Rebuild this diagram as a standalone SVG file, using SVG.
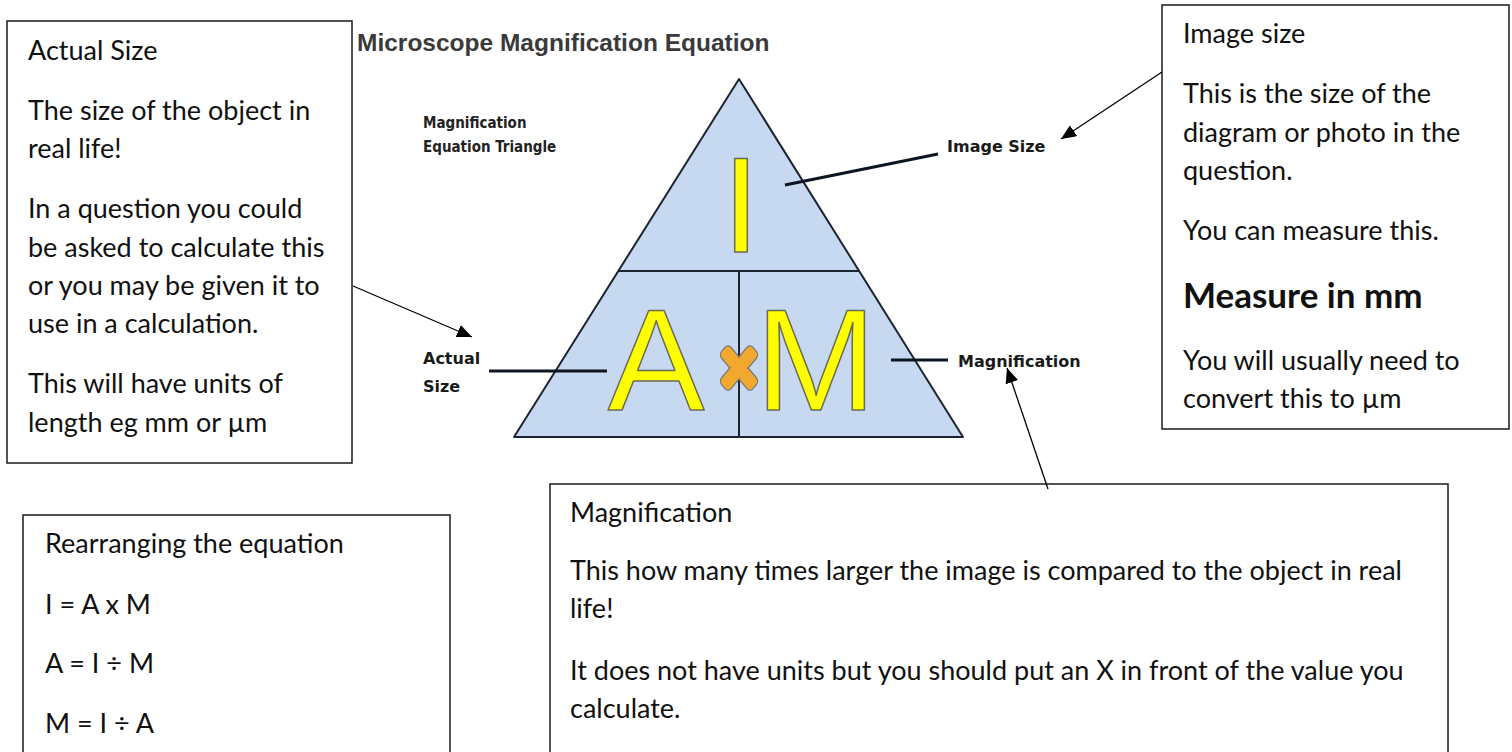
<svg xmlns="http://www.w3.org/2000/svg" width="1512" height="752" viewBox="0 0 1512 752">
<defs>
<style>
.box{fill:#fff;stroke:#1a1a1a;stroke-width:1.5}
.t{font-family:Lato,"Liberation Sans",sans-serif;font-size:27px;fill:#111}
.tb{font-family:Lato,"Liberation Sans",sans-serif;font-size:35px;font-weight:bold;fill:#111}
.title{font-family:"Liberation Sans",Arial,sans-serif;font-size:24.5px;font-weight:bold;fill:#3a3a3a}
.sub{font-family:"Liberation Sans Narrow","DejaVu Sans Condensed",sans-serif;font-stretch:condensed;font-size:15px;font-weight:bold;fill:#222}
.lab{font-family:"DejaVu Sans",sans-serif;font-size:16px;font-weight:bold;fill:#1a1a1a}
.tri{fill:#c6d9f0;stroke:#1c2430;stroke-width:2;stroke-linejoin:round}
.div{stroke:#1c2430;stroke-width:2;fill:none}
.big{font-family:"Liberation Sans",Arial,sans-serif;fill:#ffff00;stroke:#6b6b55;stroke-width:1.5;stroke-linejoin:round;text-anchor:middle}
.lead{stroke:#0d1522;stroke-width:3.2;fill:none}
.arr{stroke:#000;stroke-width:1.3;fill:none;marker-end:url(#ah)}
.x{fill:#f2a72e;stroke:#777;stroke-width:1.2;vector-effect:non-scaling-stroke}
</style>
<marker id="ah" markerUnits="userSpaceOnUse" markerWidth="16" markerHeight="13" refX="15" refY="6.5" orient="auto">
<path d="M0,0 L15,6.5 L0,13 z" fill="#000"/>
</marker>
</defs>
<rect width="1512" height="752" fill="#fff"/>

<g id="title">
<text class="title" x="357" y="51">Microscope Magnification Equation</text>
<text class="sub" x="423" y="128">Magnification</text>
<text class="sub" x="423" y="152">Equation Triangle</text>
</g>

<g id="triangle">
<polygon class="tri" points="739,79 963,437 514,437"/>
<line class="div" x1="619" y1="271" x2="859" y2="271"/>
<line class="div" x1="739" y1="271" x2="739" y2="437"/>
<text class="big" x="741" y="252" font-size="135">I</text>
<text class="big" x="656" y="410" font-size="145">A</text>
<text class="big" x="816" y="410" font-size="145">M</text>
<g transform="translate(739,368) scale(1,1.2)">
<rect class="x" x="-22" y="-6.5" width="44" height="13" rx="4" transform="rotate(45)"/>
<rect class="x" x="-22" y="-6.5" width="44" height="13" rx="4" transform="rotate(-45)"/>
<rect x="-21" y="-5.5" width="42" height="11" rx="3.5" fill="#f2a72e" transform="rotate(45)"/>
</g>
</g>

<g id="labels">
<text class="lab" x="947" y="152">Image Size</text>
<text class="lab" x="423" y="364">Actual</text>
<text class="lab" x="423" y="392">Size</text>
<text class="lab" x="958" y="367">Magnification</text>
</g>

<g id="box-actual">
<rect class="box" x="7" y="21" width="345" height="442"/>
<text class="t" x="28" y="60">Actual Size</text>
<text class="t" x="28" y="120">The size of the object in</text>
<text class="t" x="28" y="158">real life!</text>
<text class="t" x="28" y="218">In a question you could</text>
<text class="t" x="28" y="257">be asked to calculate this</text>
<text class="t" x="28" y="295">or you may be given it to</text>
<text class="t" x="28" y="333">use in a calculation.</text>
<text class="t" x="28" y="393">This will have units of</text>
<text class="t" x="28" y="432">length eg mm or µm</text>
</g>

<g id="box-image">
<rect class="box" x="1162" y="5" width="347" height="424"/>
<text class="t" x="1183" y="43">Image size</text>
<text class="t" x="1183" y="103">This is the size of the</text>
<text class="t" x="1183" y="142">diagram or photo in the</text>
<text class="t" x="1183" y="180">question.</text>
<text class="t" x="1183" y="240">You can measure this.</text>
<text class="tb" x="1183" y="308">Measure in mm</text>
<text class="t" x="1183" y="370">You will usually need to</text>
<text class="t" x="1183" y="408">convert this to µm</text>
</g>

<g id="box-rearrange">
<rect class="box" x="23" y="515" width="427" height="260"/>
<text class="t" x="45" y="553">Rearranging the equation</text>
<text class="t" x="45" y="614">I = A x M</text>
<text class="t" x="45" y="673">A = I ÷ M</text>
<text class="t" x="45" y="733">M = I ÷ A</text>
</g>

<g id="box-magnification">
<rect class="box" x="550" y="484" width="898" height="290"/>
<text class="t" x="570" y="522">Magnification</text>
<text class="t" x="570" y="580">This how many times larger the image is compared to the object in real</text>
<text class="t" x="570" y="618">life!</text>
<text class="t" x="570" y="680">It does not have units but you should put an X in front of the value you</text>
<text class="t" x="570" y="718">calculate.</text>
</g>

<g id="connectors">
<line class="lead" x1="785" y1="185" x2="938" y2="154"/>
<line class="lead" x1="489" y1="371" x2="607" y2="371"/>
<line class="lead" x1="891" y1="360" x2="948" y2="360"/>
<line class="arr" x1="353" y1="286" x2="472" y2="337"/>
<line class="arr" x1="1162" y1="72" x2="1061" y2="139"/>
<line class="arr" x1="1048" y1="489" x2="1007" y2="368"/>
</g>
</svg>
